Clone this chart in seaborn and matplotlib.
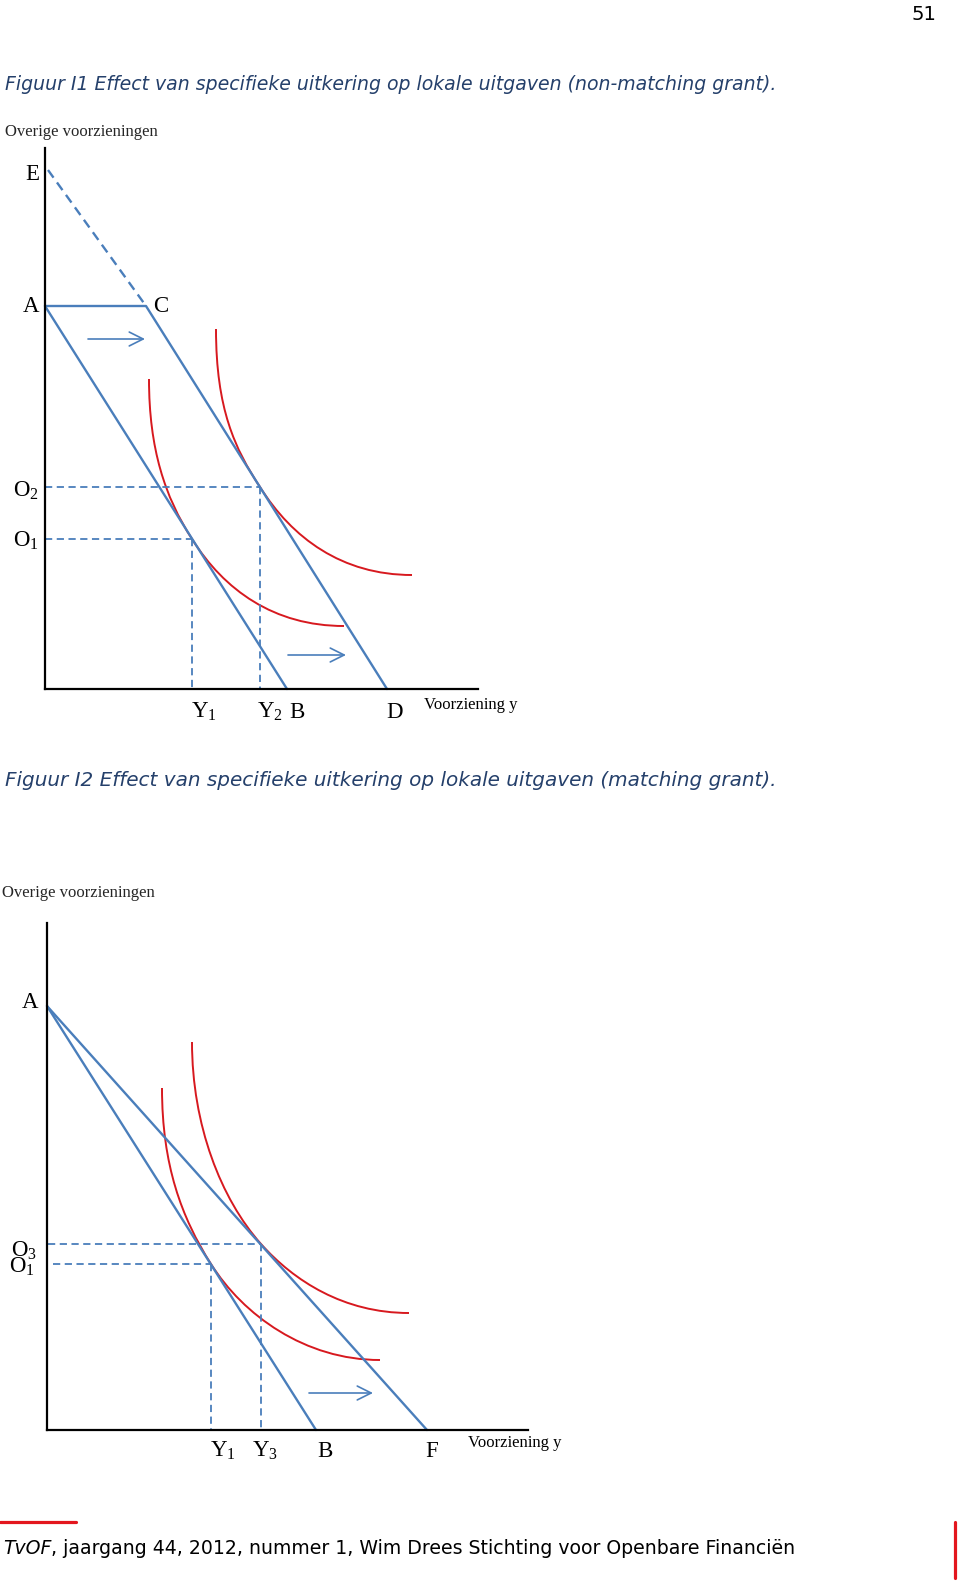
import numpy as np
import matplotlib
matplotlib.use("Agg")
import matplotlib.pyplot as plt
from matplotlib.path import Path
from matplotlib.patches import PathPatch
from matplotlib.lines import Line2D
import seaborn as sns

# ================= DATA =================
# units: 10 px from the origin of each diagram

# Figuur I1 (non-matching grant)
i1_xmax, i1_ymax = 43.3, 54.1
i1_budget_x = [0.0, 24.2]          # A -> B
i1_budget_y = [38.3, 0.0]
i1_grant_x = [0.0, 10.1, 34.2]     # A -> C -> D
i1_grant_y = [38.3, 38.3, 0.0]
i1_ext_x = [0.3, 10.1]             # E - - C
i1_ext_y = [51.9, 38.3]
i1_opt_x = [14.7, 21.5]            # Y1, Y2
i1_opt_y = [15.0, 20.2]            # O1, O2
# indifference curves: start, ctrl, ctrl, tangency, ctrl, ctrl, end
i1_low_x = [10.4, 10.4, 12.0, 14.7, 17.9, 22.9, 29.9]
i1_low_y = [31.0, 24.0, 19.2, 15.0, 9.9, 6.3, 6.3]
i1_high_x = [17.1, 17.1, 19.0, 21.5, 24.7, 29.7, 36.7]
i1_high_y = [36.0, 28.0, 24.0, 20.2, 15.1, 11.4, 11.4]
i1_arrows_x = [[4.3, 10.0], [24.3, 30.1]]
i1_arrows_y = [35.0, 3.4]
i1_xticks = [i1_opt_x[0], i1_opt_x[1], i1_budget_x[1], i1_grant_x[2]]
i1_xticklabels = ["Y$_1$", "Y$_2$", "B", "D"]

# Figuur I2 (matching grant)
i2_xmax, i2_ymax = 48.1, 50.7
i2_budget_x = [0.0, 26.9]          # A -> B
i2_budget_y = [42.4, 0.0]
i2_grant_x = [0.0, 38.0]           # A -> F
i2_grant_y = [42.4, 0.0]
i2_opt_x = [16.4, 21.4]            # Y1, Y3
i2_opt_y = [16.6, 18.6]            # O1, O3
i2_low_x = [11.5, 11.5, 13.45, 16.4, 19.6, 25.8, 33.3]
i2_low_y = [34.2, 26.5, 21.25, 16.6, 11.5, 7.0, 7.0]
i2_high_x = [14.5, 14.5, 17.4, 21.4, 24.7, 29.7, 36.2]
i2_high_y = [38.8, 30.5, 23.1, 18.6, 14.9, 11.7, 11.7]
i2_arrow_x = [26.2, 32.6]
i2_arrow_y = 3.7
i2_xticks = [i2_opt_x[0], i2_opt_x[1], i2_budget_x[1], i2_grant_x[1]]
i2_xticklabels = ["Y$_1$", "Y$_3$", "B", "F"]

title1 = "Figuur I1 Effect van specifieke uitkering op lokale uitgaven (non-matching grant)."
title2 = "Figuur I2 Effect van specifieke uitkering op lokale uitgaven (matching grant)."
ylabel = "Overige voorzieningen"
xlabel = "Voorziening y"
footer_it = "TvOF"
footer_rest = ", jaargang 44, 2012, nummer 1, Wim Drees Stichting voor Openbare Financiën"
page_no = "51"

# ================= STYLE =================
sns.set_theme(style="white")
plt.rcParams["font.family"] = ["Liberation Serif", "DejaVu Sans"]
plt.rcParams["mathtext.default"] = "regular"

BLUE = "#4A7EBB"
RED = "#D7191F"
NAVY = "#25406B"
FOOT_RED = "#E3161E"
DASH = (0, (4, 2.5))

W, H = 960, 1587
fig = plt.figure(figsize=(W / 100, H / 100), dpi=100)
fig.patch.set_facecolor("white")


def px_axes(x0, y0, x1, y1):
    return fig.add_axes([x0 / W, 1 - y1 / H, (x1 - x0) / W, (y1 - y0) / H])


def seg(ax, xs, ys, **kw):
    kw.setdefault("color", BLUE)
    kw.setdefault("linewidth", 1.7)
    sns.lineplot(x=xs, y=ys, ax=ax, estimator=None, sort=False,
                 legend=False, clip_on=False, **kw)


def curve(ax, xs, ys):
    codes = [Path.MOVETO] + [Path.CURVE4] * (len(xs) - 1)
    path = Path(np.column_stack([xs, ys]), codes)
    ax.add_patch(PathPatch(path, fc="none", ec=RED, lw=1.4, clip_on=False))


def arrow(ax, xs, y):
    ax.annotate("", xy=(xs[1], y), xytext=(xs[0], y),
                arrowprops=dict(arrowstyle="->,head_length=1.0,head_width=0.5",
                                color=BLUE, lw=1.2, shrinkA=0, shrinkB=0,
                                mutation_scale=10),
                annotation_clip=False)


def guides(ax, xs, ys, x_start=0.0):
    for x, y in zip(xs, ys):
        seg(ax, [x_start, x], [y, y], linestyle=DASH, linewidth=1.3)
        seg(ax, [x, x], [y, 0.0], linestyle=DASH, linewidth=1.3)


def finish_axes(ax, xmax, ymax):
    ax.set_xlim(0, xmax)
    ax.set_ylim(0, ymax)
    ax.set_xticks([])
    ax.set_yticks([])
    ax.set_xlabel("")
    ax.set_ylabel("")
    ax.set_facecolor("none")
    for s in ["top", "right"]:
        ax.spines[s].set_visible(False)
    for s in ["left", "bottom"]:
        ax.spines[s].set_color("black")
        ax.spines[s].set_linewidth(1.6)


def lab(ax, s, xy, dx, dy, ha="left", va="baseline", size=16.5):
    ax.annotate(s, xy=xy, xytext=(dx, dy), textcoords="offset pixels",
                ha=ha, va=va, fontsize=size, color="black",
                annotation_clip=False)


# ================= FIGUUR I1 =================
ax1 = px_axes(45, 148, 478, 689)
guides(ax1, i1_opt_x, i1_opt_y)
seg(ax1, i1_ext_x, i1_ext_y, linestyle=DASH, linewidth=1.7)
seg(ax1, i1_budget_x, i1_budget_y)
seg(ax1, i1_grant_x, i1_grant_y)
curve(ax1, i1_low_x, i1_low_y)
curve(ax1, i1_high_x, i1_high_y)
for xs, y in zip(i1_arrows_x, i1_arrows_y):
    arrow(ax1, xs, y)
finish_axes(ax1, i1_xmax, i1_ymax)

for x, s, dx in zip(i1_xticks, i1_xticklabels, [-1, -3, 2, -1]):
    lab(ax1, s, (x, 0), dx, -29)
lab(ax1, xlabel, (i1_xmax, 0), -54, -20, size=12)
lab(ax1, "E", (0, i1_ext_y[0]), -6, -4, ha="right", va="center")
lab(ax1, "A", (0, i1_grant_y[0]), -6, 0, ha="right", va="center")
lab(ax1, "C", (i1_grant_x[1], i1_grant_y[1]), 7, 0, ha="left", va="center")
lab(ax1, "O$_1$", (0, i1_opt_y[0]), -6, -2, ha="right", va="center")
lab(ax1, "O$_2$", (0, i1_opt_y[1]), -6, -4, ha="right", va="center")

# ================= FIGUUR I2 =================
ax2 = px_axes(47, 923, 528, 1430)
seg(ax2, [0.6, i2_opt_x[0]], [i2_opt_y[0]] * 2, linestyle=DASH, linewidth=1.3)
seg(ax2, [i2_opt_x[0]] * 2, [i2_opt_y[0], 0.0], linestyle=DASH, linewidth=1.3)
seg(ax2, [0.1, i2_opt_x[1]], [i2_opt_y[1]] * 2, linestyle=DASH, linewidth=1.3)
seg(ax2, [i2_opt_x[1]] * 2, [i2_opt_y[1], 0.0], linestyle=DASH, linewidth=1.3)
seg(ax2, i2_budget_x, i2_budget_y)
seg(ax2, i2_grant_x, i2_grant_y)
curve(ax2, i2_low_x, i2_low_y)
curve(ax2, i2_high_x, i2_high_y)
arrow(ax2, i2_arrow_x, i2_arrow_y)
finish_axes(ax2, i2_xmax, i2_ymax)

for x, s, dx in zip(i2_xticks, i2_xticklabels, [-1, -9, 1, -2]):
    lab(ax2, s, (x, 0), dx, -27)
lab(ax2, xlabel, (i2_xmax, 0), -60, -17, size=12)
lab(ax2, "A", (0, i2_grant_y[0]), -9, 4, ha="right", va="center")
lab(ax2, "O$_3$", (0, i2_opt_y[1]), -10, -7, ha="right", va="center")
lab(ax2, "O$_1$", (0, i2_opt_y[0]), -12, -3, ha="right", va="center")

# ================= PAGE TEXT =================
def ftext(x, y, s, **kw):
    return fig.text(x / W, 1 - y / H, s, **kw)


ftext(5, 132, ylabel, ha="left", va="center", fontsize=12)
ftext(2, 893, ylabel, ha="left", va="center", fontsize=12)

sans = ["DejaVu Sans"]
t1 = ftext(5, 85, title1, ha="left", va="center", fontsize=14,
           style="italic", color=NAVY, family=sans)
t2 = ftext(5, 780, title2, ha="left", va="center", fontsize=14,
           style="italic", color=NAVY, family=sans)
f1 = ftext(3, 1548, footer_it, ha="left", va="center", fontsize=14,
           style="italic", color="black", family=sans)
f2 = ftext(60, 1548, footer_rest, ha="left", va="center", fontsize=14,
           color="black", family=sans)
ftext(936, 14, page_no, ha="right", va="center", fontsize=14,
      color="black", family=sans)

# scale the long lines of text to the widths in the page
fig.canvas.draw()
r = fig.canvas.get_renderer()
for t, target in [(t1, 774), (t2, 775)]:
    t.set_fontsize(t.get_fontsize() * target / t.get_window_extent(r).width)
fw = f1.get_window_extent(r).width + f2.get_window_extent(r).width
for t in (f1, f2):
    t.set_fontsize(t.get_fontsize() * 790 / fw)
fig.canvas.draw()
x_end = f1.get_window_extent(r).x1
f2.set_x(x_end / W)

fig.add_artist(Line2D([0, 76 / W], [1 - 1522 / H] * 2, color=FOOT_RED, lw=2.3))
fig.add_artist(Line2D([955 / W] * 2, [1 - 1522 / H, 1 - 1578 / H], color=FOOT_RED, lw=2.3))

fig.savefig("out.png", dpi=100, facecolor="white")
